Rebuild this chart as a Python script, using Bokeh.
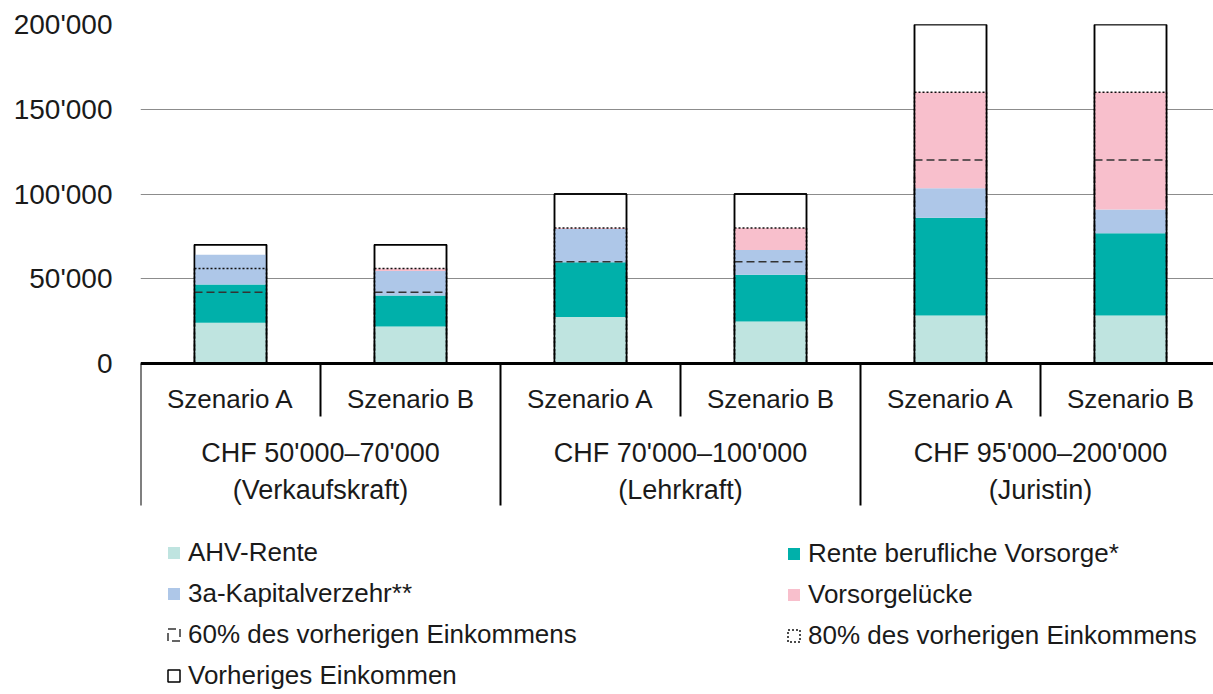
from bokeh.plotting import figure
from bokeh.models import Range1d, FixedTicker, Legend, LegendItem, Span, ColumnDataSource
from bokeh.core.properties import value
from bokeh.embed import file_html
from bokeh.resources import INLINE

# ---------------- data ----------------
scenarios = ["Szenario A", "Szenario B", "Szenario A", "Szenario B", "Szenario A", "Szenario B"]
groups = ["CHF 50'000–70'000", "CHF 70'000–100'000", "CHF 95'000–200'000"]
roles = ["(Verkaufskraft)", "(Lehrkraft)", "(Juristin)"]
ahv = [24000, 21800, 27500, 24800, 28300, 28300]
bv = [22600, 18300, 32300, 27500, 57700, 48600]
kap3a = [17500, 14400, 19500, 14600, 17400, 14000]
luecke = [0, 1500, 700, 13100, 56600, 69100]
einkommen = [70000, 70000, 100000, 100000, 200000, 200000]
ziel60 = [42000, 42000, 60000, 60000, 120000, 120000]
ziel80 = [56000, 56000, 80000, 80000, 160000, 160000]
y_ticks = [0, 50000, 100000, 150000, 200000]
y_tick_labels = ["0", "50'000", "100'000", "150'000", "200'000"]

# ---------------- geometry (pixels) ----------------
W, H = 1213, 694
LEFT, TOP = 140, 24
CAT_PX = 180
PAGE_TOP = 0
ZERO_PAGE = 363
TOPVAL_PAGE = 24
BOTTOM_PAGE = PAGE_TOP + H
YMAX = 200000
unit = YMAX / (ZERO_PAGE - TOPVAL_PAGE)


def ypx(page_y):
    return (ZERO_PAGE - page_y) * unit


FONT_NAME = "Liberation Sans"
FONT = value(FONT_NAME)
TXT = "#1a1a1a"
FS = "26px"

n = len(scenarios)
xs = [i + 0.5 for i in range(n)]
src = ColumnDataSource(dict(x=xs, ahv=ahv, bv=bv, kap3a=kap3a, luecke=luecke,
                            einkommen=einkommen, ziel60=ziel60, ziel80=ziel80))

p = figure(width=W, height=H,
           x_range=Range1d(0, (W - LEFT) / CAT_PX),
           y_range=Range1d(ypx(BOTTOM_PAGE), YMAX),
           x_axis_location=None, toolbar_location=None, output_backend="svg",
           min_border_left=LEFT, min_border_right=0, min_border_top=TOP, min_border_bottom=0)
p.outline_line_color = None
p.xgrid.visible = False
p.ygrid.ticker = FixedTicker(ticks=y_ticks)
p.ygrid.grid_line_color = "#8c8c8c"
p.ygrid.grid_line_width = 1

ax = p.yaxis[0]
ax.ticker = FixedTicker(ticks=y_ticks)
ax.major_label_overrides = {t: l for t, l in zip(y_ticks, y_tick_labels)}
ax.axis_line_color = None
ax.major_tick_line_color = None
ax.minor_tick_line_color = None
ax.major_tick_out = 0
ax.major_tick_in = 0
ax.major_label_standoff = 28
ax.major_label_text_font = FONT_NAME
ax.major_label_text_font_size = "28px"
ax.major_label_text_color = TXT

BW = 0.4
r_inc = p.vbar(x="x", top="einkommen", bottom=0, width=BW, source=src,
               fill_color="white", line_color="black", line_width=1.5)
stack = p.vbar_stack(["ahv", "bv", "kap3a", "luecke"], x="x", width=BW, source=src,
                     fill_color=["#bfe4e0", "#00b0aa", "#aec7e8", "#f8bfcc"], line_color=None)
r80 = p.vbar(x="x", top="ziel80", bottom=0, width=BW, source=src,
             fill_color=None, line_color="#111111", line_width=1.5, line_dash="2 2")
r60 = p.vbar(x="x", top="ziel60", bottom=0, width=BW, source=src,
             fill_color=None, line_color="#333333", line_width=1.5, line_dash="8 4")
p.vbar(x="x", top="einkommen", bottom=0, width=BW, source=src,
       fill_color=None, line_color="black", line_width=1.5)

p.add_layout(Span(location=0, dimension="width", line_color="black", line_width=3))

# category separators
bounds = list(range(n + 1))
short_b = [b for b in bounds if b % 2 == 1]
long_b = [b for b in bounds if b % 2 == 0]
p.segment(x0=short_b, y0=[0] * len(short_b), x1=short_b, y1=[ypx(416)] * len(short_b),
          line_color="black", line_width=2)
p.segment(x0=long_b, y0=[0] * len(long_b), x1=long_b, y1=[ypx(505)] * len(long_b),
          line_color="black", line_width=2)

p.text(x=xs, y=[ypx(398)] * n, text=scenarios, text_align="center", text_baseline="middle",
       text_font=FONT, text_font_size=FS, text_color=TXT)
gx = [(xs[2 * i] + xs[2 * i + 1]) / 2 for i in range(len(groups))]
p.text(x=gx, y=[ypx(452)] * len(groups), text=groups, text_align="center", text_baseline="middle",
       text_font=FONT, text_font_size="27px", text_color=TXT)
p.text(x=gx, y=[ypx(489)] * len(groups), text=roles, text_align="center", text_baseline="middle",
       text_font=FONT, text_font_size="27px", text_color=TXT)


def mk_legend(items, loc):
    lg = Legend(items=items, location=loc)
    lg.background_fill_alpha = 0
    lg.border_line_color = None
    lg.padding = 0
    lg.margin = 0
    lg.spacing = 10
    lg.label_height = 30
    lg.glyph_height = 15
    lg.glyph_width = 15
    lg.label_standoff = 7
    lg.label_text_font = FONT_NAME
    lg.label_text_font_size = FS
    lg.label_text_color = TXT
    return lg


left = mk_legend([
    LegendItem(label="AHV-Rente", renderers=[stack[0]]),
    LegendItem(label="3a-Kapitalverzehr**", renderers=[stack[2]]),
    LegendItem(label="60% des vorherigen Einkommens", renderers=[r60]),
    LegendItem(label="Vorheriges Einkommen", renderers=[r_inc]),
], (26, 3))
right = mk_legend([
    LegendItem(label="Rente berufliche Vorsorge*", renderers=[stack[1]]),
    LegendItem(label="Vorsorgelücke", renderers=[stack[3]]),
    LegendItem(label="80% des vorherigen Einkommens", renderers=[r80]),
], (646, 43))
p.add_layout(left)
p.add_layout(right)

open("out.html", "w").write(file_html(p, INLINE))
